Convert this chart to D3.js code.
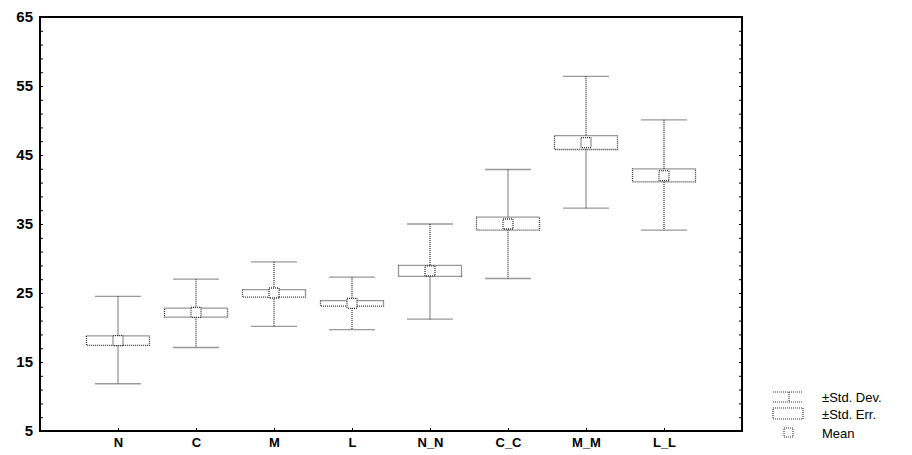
<!DOCTYPE html>
<html><head><meta charset="utf-8">
<script src="https://cdn.jsdelivr.net/npm/d3@7"></script>
<style>body{margin:0;background:#fff}svg{display:block}text{font-family:"Liberation Sans",Arial,sans-serif}</style>
</head><body><svg id="c" width="912" height="455"></svg>
<script>
const categories = ["N","C","M","L","N_N","C_C","M_M","L_L"];
const means   = [18.1, 22.2, 25.0, 23.5, 28.2, 35.0, 46.8, 42.0];
const seLow   = [17.4, 21.5, 24.4, 23.1, 27.4, 34.1, 45.8, 41.1];
const seHigh  = [18.8, 22.8, 25.5, 23.9, 29.0, 36.0, 47.8, 43.0];
const sdLow   = [11.85, 17.1, 20.15, 19.7, 21.2, 27.1, 37.3, 34.1];
const sdHigh  = [24.5, 27.0, 29.5, 27.3, 35.0, 42.9, 56.4, 50.1];
const yTicks  = [5, 15, 25, 35, 45, 55, 65];
const legendLabels = ["\u00b1Std. Dev.", "\u00b1Std. Err.", "Mean"];

const svg = d3.select("#c");
const L = 40, R = 742, T = 17, B = 431;
const x = d3.scalePoint().domain(categories).range([L, R]).padding(1);
const y = d3.scaleLinear().domain([5, 65]).range([B, T]);
const dot = "1,1", col = "#333";

// minor ticks left & right
const minor = d3.range(5, 66, 2);
svg.append("g").attr("transform", `translate(${L},0)`)
  .call(d3.axisRight(y).tickValues(minor).tickSize(3).tickFormat(""))
  .call(g => g.select(".domain").remove()).selectAll("line").attr("stroke", "#000");
svg.append("g").attr("transform", `translate(${R},0)`)
  .call(d3.axisLeft(y).tickValues(minor).tickSize(3).tickFormat(""))
  .call(g => g.select(".domain").remove()).selectAll("line").attr("stroke", "#000");
// left labels
svg.append("g").attr("transform", `translate(${L},0)`)
  .call(d3.axisLeft(y).tickValues(yTicks).tickSize(0).tickPadding(7))
  .call(g => g.select(".domain").remove())
  .selectAll("text").attr("font-size", 15).attr("font-weight", "bold").attr("fill", "#000");
// bottom axis
svg.append("g").attr("transform", `translate(0,${B})`)
  .call(d3.axisTop(x).tickSize(3).tickFormat(""))
  .call(g => g.select(".domain").remove()).selectAll("line").attr("stroke", "#000");
svg.append("g").attr("transform", `translate(0,${B})`)
  .call(d3.axisBottom(x).tickSize(0).tickPadding(7))
  .call(g => g.select(".domain").remove())
  .selectAll("text").attr("font-size", 13).attr("font-weight", "bold").attr("fill", "#000");

// frame
svg.append("rect").attr("x", L).attr("y", T).attr("width", R - L).attr("height", B - T)
  .attr("fill", "none").attr("stroke", "#000").attr("stroke-width", 2);

const data = categories.map((c, i) => ({c, m: means[i], sl: seLow[i], sh: seHigh[i], dl: sdLow[i], dh: sdHigh[i]}));
const capW = 45, boxW = 63, mW = 10;
const g = svg.append("g").attr("fill", "none").attr("stroke", col).attr("stroke-dasharray", dot).attr("stroke-width", 1.3);
data.forEach(d => {
  const cx = x(d.c);
  g.append("line").attr("x1", cx).attr("x2", cx).attr("y1", y(d.dh)).attr("y2", y(d.sh));
  g.append("line").attr("x1", cx).attr("x2", cx).attr("y1", y(d.sl)).attr("y2", y(d.dl));
  g.append("line").attr("x1", cx - capW/2).attr("x2", cx + capW/2).attr("y1", y(d.dh)).attr("y2", y(d.dh));
  g.append("line").attr("x1", cx - capW/2).attr("x2", cx + capW/2).attr("y1", y(d.dl)).attr("y2", y(d.dl));
  g.append("rect").attr("x", cx - boxW/2).attr("width", boxW).attr("y", y(d.sh)).attr("height", y(d.sl) - y(d.sh));
  g.append("rect").attr("x", cx - mW/2).attr("width", mW).attr("y", y(d.m) - mW/2).attr("height", mW).attr("fill", "#fff");
});

// legend
const lg = svg.append("g");
const lx = 773, lw = 30;
const ls = lg.append("g").attr("fill", "none").attr("stroke", col).attr("stroke-dasharray", dot).attr("stroke-width", 1.2);
ls.append("line").attr("x1", lx).attr("x2", lx + lw).attr("y1", 392).attr("y2", 392);
ls.append("line").attr("x1", lx).attr("x2", lx + lw).attr("y1", 402).attr("y2", 402);
ls.append("line").attr("x1", lx + 16).attr("x2", lx + 16).attr("y1", 392).attr("y2", 402);
ls.append("rect").attr("x", lx).attr("y", 408).attr("width", lw).attr("height", 11);
ls.append("rect").attr("x", lx + 11).attr("y", 428).attr("width", 9).attr("height", 9);
lg.selectAll("text").data(legendLabels).join("text")
  .attr("x", 822).attr("y", (d, i) => [402, 419, 438][i])
  .attr("font-size", 13).attr("fill", "#000").text(d => d);
</script></body></html>
